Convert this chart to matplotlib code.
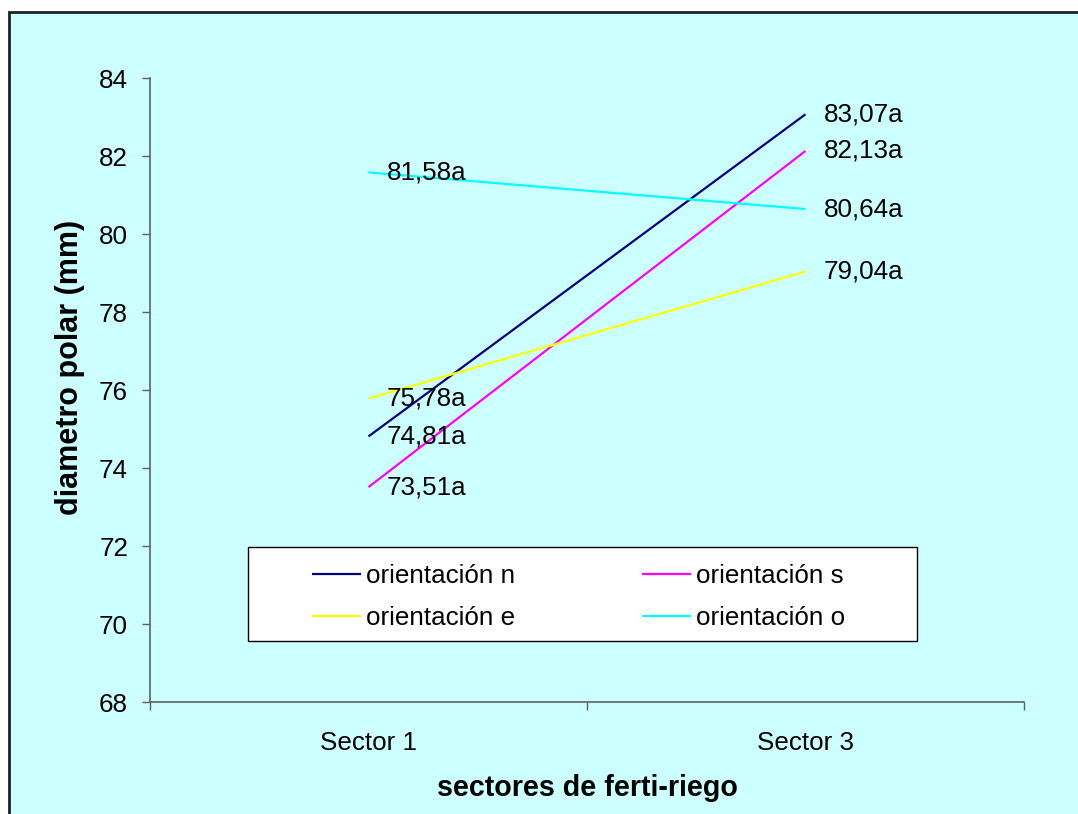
import matplotlib
matplotlib.use("Agg")
import matplotlib.pyplot as plt
from matplotlib.patches import Rectangle

plt.rcParams['font.family'] = ['Liberation Sans', 'DejaVu Sans']

# Data
sectors = ["Sector 1", "Sector 3"]
series_names = ["orientación n", "orientación s", "orientación e", "orientación o"]
orient_n = [74.81, 83.07]
orient_s = [73.51, 82.13]
orient_e = [75.78, 79.04]
orient_o = [81.58, 80.64]
series_values = [orient_n, orient_s, orient_e, orient_o]
series_colors = ["#000080", "#FF00FF", "#FFFF00", "#00FFFF"]
y_ticks = [68, 70, 72, 74, 76, 78, 80, 82, 84]

W, H = 1078, 814
DPI = 100
FS = 18.7

fig = plt.figure(figsize=(W / DPI, H / DPI), dpi=DPI, facecolor="white")

# Chart area background with border
bg = Rectangle((9 / W, -0.01), 1.02, 1 - 12 / H + 0.01, transform=fig.transFigure,
               facecolor="#CCFFFF", edgecolor="#202020", linewidth=2.0, zorder=-5)
fig.patches.append(bg)

ax = fig.add_axes([150 / W, 1 - 702 / H, (1024 - 150) / W, (702 - 78) / H])
ax.set_facecolor("none")
ax.set_zorder(1)

xs = list(range(len(sectors)))
handles = []
for name, vals, col in zip(series_names, series_values, series_colors):
    ln, = ax.plot(xs, vals, color=col, linewidth=1.6, label=name, solid_capstyle="butt")
    handles.append(ln)
    for x, v in zip(xs, vals):
        ax.annotate(f"{v:.2f}".replace(".", ",") + "a", (x, v), xytext=(13, 0),
                    textcoords="offset points", ha="left", va="center", fontsize=FS,
                    color="black")

ax.set_xlim(-0.5, 1.5)
ax.set_ylim(68, 84)
ax.set_yticks(y_ticks)
ax.set_yticklabels([str(t) for t in y_ticks], fontsize=FS)
ax.tick_params(axis="y", direction="out", length=5.8, width=1, color="#606060", pad=10)

ax.set_xticks([-0.5, 0.5, 1.5])
ax.set_xticklabels([])
ax.set_xticks(xs, minor=True)
ax.set_xticklabels(sectors, minor=True, fontsize=FS)
ax.tick_params(axis="x", which="major", direction="out", length=5.8, width=1, color="#606060")
ax.tick_params(axis="x", which="minor", length=0, pad=21)

for s in ["top", "right"]:
    ax.spines[s].set_visible(False)
for s in ["left", "bottom"]:
    ax.spines[s].set_color("#606060")
    ax.spines[s].set_linewidth(1.2)

fig.text(70 / W, 1 - 367 / H, "diametro polar (mm)", rotation=90, ha="center", va="center",
         fontsize=22, fontweight="bold")
fig.text(587 / W, 1 - 788 / H, "sectores de ferti-riego", ha="center", va="center",
         fontsize=20.6, fontweight="bold")

# Legend box
lx0, lx1, ly0, ly1 = 248, 917, 547, 641
box = Rectangle((lx0 / W, 1 - ly1 / H), (lx1 - lx0) / W, (ly1 - ly0) / H,
                transform=fig.transFigure, facecolor="white", edgecolor="black",
                linewidth=1.0, zorder=3)
fig.patches.append(box)
leg_handles = [handles[0], handles[2], handles[1], handles[3]]
leg = fig.legend(handles=leg_handles, labels=[h.get_label() for h in leg_handles],
                 ncol=2, loc="center",
                 bbox_to_anchor=((lx0 + lx1) / 2 / W - 4 / W, 1 - (ly0 + ly1) / 2 / H - 3 / H),
                 frameon=False, fontsize=FS, handlelength=1.9, handletextpad=0.2,
                 columnspacing=4.86, labelspacing=0.72, borderpad=0.2)
leg.set_zorder(4)

fig.savefig("out.png", dpi=DPI, facecolor="white")
